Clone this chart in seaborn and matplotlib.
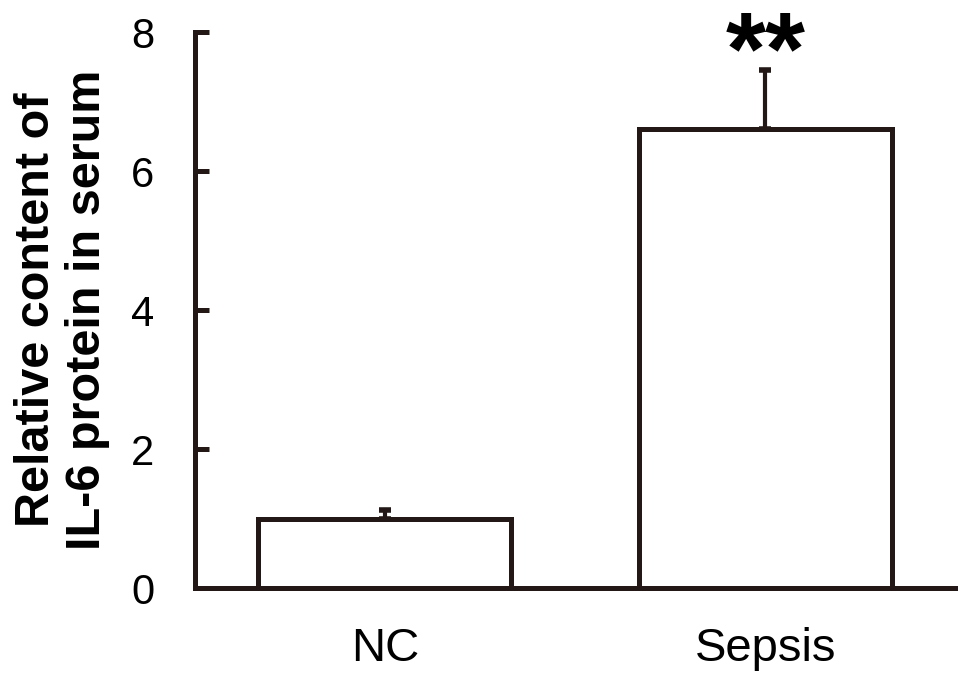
import numpy as np
import pandas as pd
import matplotlib
matplotlib.use("Agg")
import matplotlib.pyplot as plt
import seaborn as sns

# ==============================
# Data
# ==============================

groups = ["NC", "Sepsis"]
means = [1.0, 6.6]
errors = [0.13, 0.86]
stars = ["", "**"]

df = pd.DataFrame({"group": groups, "value": means})

# ==============================
# Style
# ==============================

sns.set_style("white")
plt.rcParams["font.family"] = ["Liberation Sans", "DejaVu Sans"]

ink = "#231815"
lw = 3.6

fig = plt.figure(figsize=(9.69, 6.83), dpi=100)
ax = fig.add_axes([0.201, 0.139, 0.785, 0.814])

sns.barplot(
    data=df, x="group", y="value",
    color="white", edgecolor=ink, linewidth=lw,
    width=0.665, errorbar=None, ax=ax
)

# upper error bars only
ax.errorbar(
    range(len(groups)), means,
    yerr=[np.zeros(len(errors)), errors],
    fmt="none", ecolor=ink, elinewidth=3.0,
    capsize=4.5, capthick=4.0, zorder=1
)

for i, s in enumerate(stars):
    if s:
        ax.text(i, means[i] + errors[i] - 0.52, s, ha="center", va="bottom",
                fontsize=74, fontweight="bold", color="black")

ax.set_xlim(-0.5, 1.5)
ax.set_ylim(0, 8)
ax.set_yticks([0, 2, 4, 6, 8])

for side in ["top", "right"]:
    ax.spines[side].set_visible(False)
for side in ["left", "bottom"]:
    ax.spines[side].set_color(ink)
    ax.spines[side].set_linewidth(lw)

ax.tick_params(axis="y", left=True, direction="in", length=10, width=lw,
               color=ink, labelsize=30, pad=29, labelcolor="black")
ax.tick_params(axis="x", length=0, labelsize=34, pad=28, labelcolor="black")

ax.set_xlabel("")
ax.set_ylabel("Relative content of\nIL-6 protein in serum", color="black",
              fontsize=35, fontweight="bold", labelpad=15, linespacing=1.19)

plt.savefig("out.png", dpi=100)
plt.close()
